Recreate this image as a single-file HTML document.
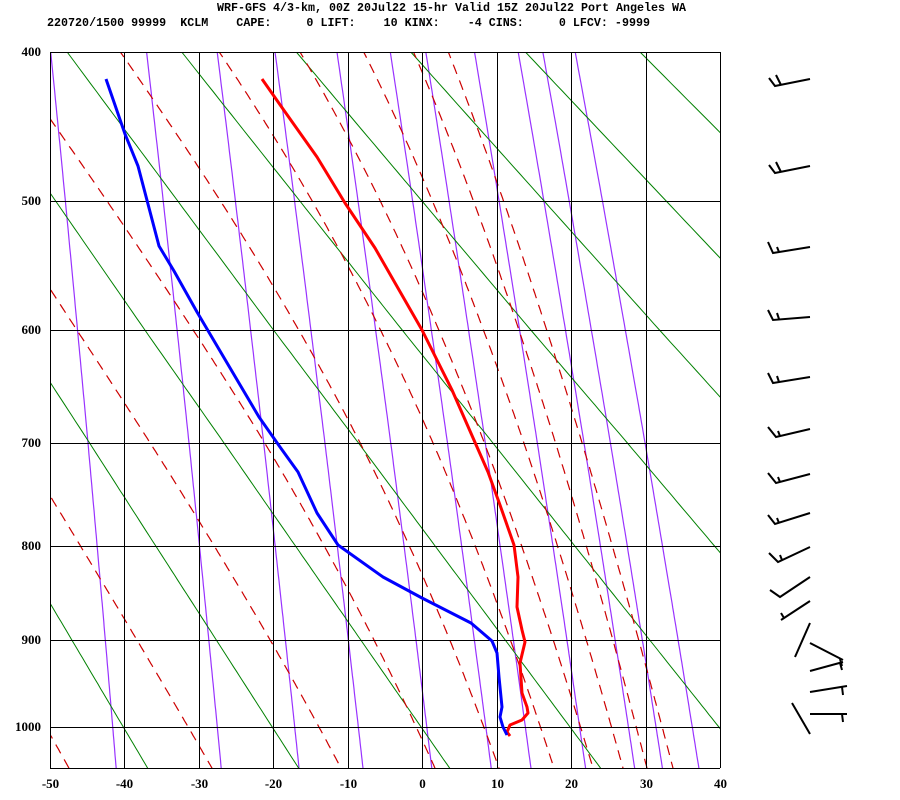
<!DOCTYPE html>
<html><head><meta charset="utf-8">
<style>
html,body{margin:0;padding:0;background:#fff;width:900px;height:800px;overflow:hidden}
svg{display:block}
.t{font-family:"Liberation Mono",monospace;font-weight:bold;font-size:12px;fill:#000;white-space:pre}
.l{font-family:"Liberation Serif",serif;font-weight:bold;font-size:13px;fill:#000}
</style></head><body>
<svg id="s" width="900" height="800" xmlns="http://www.w3.org/2000/svg">
<text class="t" x="217" y="11" textLength="469" lengthAdjust="spacingAndGlyphs" xml:space="preserve">WRF-GFS 4/3-km, 00Z 20Jul22 15-hr Valid 15Z 20Jul22 Port Angeles WA</text>
<text class="t" x="47" y="26" textLength="603" lengthAdjust="spacingAndGlyphs" xml:space="preserve">220720/1500 99999  KCLM    CAPE:     0 LIFT:    10 KINX:    -4 CINS:     0 LFCV: -9999</text>
<g id="bg"></g>
<g id="grid" stroke="#000" stroke-width="1"></g>
<polyline fill="none" stroke="#ff0000" stroke-width="3" stroke-linejoin="round" points="262,79 283,109 317,157 345,203 375,248 422,330 452,390 488,472 500,505 514,545 518,577 517,607 522,630 525,642 520,663 522,693 527,707 528,713 522,720 510,725 507,732 510,736"/>
<polyline fill="none" stroke="#0000ff" stroke-width="3" stroke-linejoin="round" points="106,79 125,134 138,166 159,246 174,271 197,312 259,417 280,447 298,472 317,513 338,545 383,577 422,598 471,623 492,641 497,653 499,677 502,707 500,717 503,727 507,735"/>
<g stroke="#000" stroke-width="2" fill="none">
<polyline points="810,79 775,86 769,78"/><line x1="781" y1="85" x2="776" y2="75"/>
<polyline points="810,166 775,173 769,165"/><line x1="781" y1="172" x2="776" y2="162"/>
<polyline points="810,247 773,253 768,242"/><line x1="779" y1="252" x2="777" y2="247"/>
<polyline points="810,317 773,320 768,310"/><line x1="779" y1="319" x2="777" y2="313"/>
<polyline points="810,377 773,383 768,373"/><line x1="779" y1="382" x2="777" y2="376"/>
<polyline points="810,429 776,437 768,427"/><line x1="780" y1="436" x2="778" y2="431"/>
<polyline points="810,474 776,483 768,473"/><line x1="780" y1="482" x2="778" y2="477"/>
<polyline points="810,513 775,524 768,515"/><line x1="779" y1="523" x2="777" y2="518"/>
<polyline points="810,547 778,562 769,553"/><line x1="782" y1="560" x2="780" y2="555"/>
<polyline points="810,577 780,597 770,590"/>
<line x1="810" y1="601" x2="781" y2="620"/><line x1="784" y1="618" x2="781" y2="613"/>
<line x1="810" y1="623" x2="795" y2="657"/>
<line x1="810" y1="643" x2="843" y2="660"/><line x1="840" y1="659" x2="842" y2="666"/>
<line x1="810" y1="671" x2="843" y2="662"/><line x1="840" y1="663" x2="842" y2="670"/>
<line x1="810" y1="692" x2="847" y2="686"/><line x1="842" y1="687" x2="843" y2="695"/>
<line x1="810" y1="714" x2="847" y2="714"/><line x1="842" y1="714" x2="843" y2="722"/>
<line x1="792" y1="703" x2="810" y2="734"/>
</g>
<g id="lab"></g>
</svg>
<script>
(function(){
var NS="http://www.w3.org/2000/svg";
var K=0.286;
var AP=[400,500,600,700,800,900,1000],AY=[52,201,330,443,546,640,727];
var QS=AP.map(function(a){return Math.pow(a,K)});
function Y(p){var q=Math.pow(p,K);
 var i=0;if(q<=QS[0])i=0;else if(q>=QS[6])i=5;else{for(i=0;i<5;i++)if(q<QS[i+1])break;}
 return AY[i]+(q-QS[i])*(AY[i+1]-AY[i])/(QS[i+1]-QS[i]);}
function X(T){return 50+(T+50)*670/90;}
function Tx(x){return (x-50)*90/670-50;}
var PB=1000;while(Y(PB)<768)PB+=0.5;
var bg=document.getElementById('bg');
function path(pts,col,w,dash){var d="";pts.forEach(function(p,i){d+=(i?"L":"M")+p[0].toFixed(1)+","+p[1].toFixed(1)});
 var e=document.createElementNS(NS,"path");e.setAttribute("d",d);e.setAttribute("fill","none");e.setAttribute("stroke",col);e.setAttribute("stroke-width",w);if(dash)e.setAttribute("stroke-dasharray",dash);bg.appendChild(e);}
var PT=400;
[0.1,0.4,1,2,4,7,10,16,24,30,40].forEach(function(w){var pts=[];
 for(var p=PT;p<=PB+5;p+=5){var e=w*p/(622+w);var l=Math.log(e/6.112);var td=243.5*l/(17.67-l);pts.push([X(td),Y(p)]);}
 path(pts,"#9933ff",1.2);});
for(var th=213;th<=453;th+=20){var pts=[];for(var p=PT;p<=PB+5;p+=5){pts.push([X(th*Math.pow(p/1000,K)-273.15),Y(p)]);}path(pts,"#008000",1);}
function es(T){return 6.112*Math.exp(17.67*T/(T+243.5));}
function dTdp(T,p){var Tk=T+273.15;var e=es(T);var rs=0.622*e/(p-e);var Lv=2.5e6,Rd=287,cp=1004;
 return (Rd*Tk+Lv*rs)/(p*(cp+Lv*Lv*rs*0.622/(Rd*Tk*Tk)));}
function bottomT(t0){var T=t0,p=1000;var h=0.5;while(p<PB){T+=dTdp(T,p)*h;p+=h;}return T;}
[[69,null],[212,null],[341,null],[435,null],[499,118],[554,217],[593,298],[623,362],[647,412],[673,447]].forEach(function(L){
 var bx=L[0],topX=L[1];
 var target=Tx(bx),lo=-80,hi=50;
 for(var k=0;k<40;k++){var m=(lo+hi)/2;if(bottomT(m)<target)lo=m;else hi=m;}
 var t0=(lo+hi)/2;
 var up=[],T=t0,p=1000,h=-2;while(p>=PT-2){up.push([X(T),Y(p)]);T+=dTdp(T,p)*h;p+=h;}
 var dn=[];T=t0;p=1000;while(p<=PB+4){dn.push([X(T),Y(p)]);T+=dTdp(T,p)*2;p+=2;}
 up.reverse();
 var pts=up.concat(dn);
 if(topX!==null){var xt=up[0][0];var dx=topX-xt;
  pts=pts.map(function(q){var f=Math.max(0,(768-q[1])/716);return [q[0]+f*dx,q[1]];});}
 path(pts,"#cc0000",1.2,"10,7");});
var cp=document.createElementNS(NS,"clipPath");cp.id="c";var r=document.createElementNS(NS,"rect");
r.setAttribute("x",50);r.setAttribute("y",52);r.setAttribute("width",670);r.setAttribute("height",716);cp.appendChild(r);
document.getElementById('s').insertBefore(cp,bg);bg.setAttribute("clip-path","url(#c)");
var g=document.getElementById('grid');
function ln(x1,y1,x2,y2){var e=document.createElementNS(NS,"line");e.setAttribute("x1",x1);e.setAttribute("y1",y1);e.setAttribute("x2",x2);e.setAttribute("y2",y2);g.appendChild(e);}
var lab=document.getElementById('lab');
function tx(s,x,y,anc){var e=document.createElementNS(NS,"text");e.setAttribute("class","l");e.setAttribute("x",x);e.setAttribute("y",y);e.setAttribute("text-anchor",anc);e.textContent=s;lab.appendChild(e);}
AP.forEach(function(p,i){ln(50,AY[i]+0.5,720,AY[i]+0.5);tx(String(p),41,AY[i]+4,"end");});
for(var t=-50;t<=40;t+=10){var x=Math.round(X(t))+0.5;ln(x,52,x,768);tx(String(t),x,788,"middle");}
ln(50,768.5,720,768.5);ln(720.5,52,720.5,768);
})();
</script>
</body></html>
